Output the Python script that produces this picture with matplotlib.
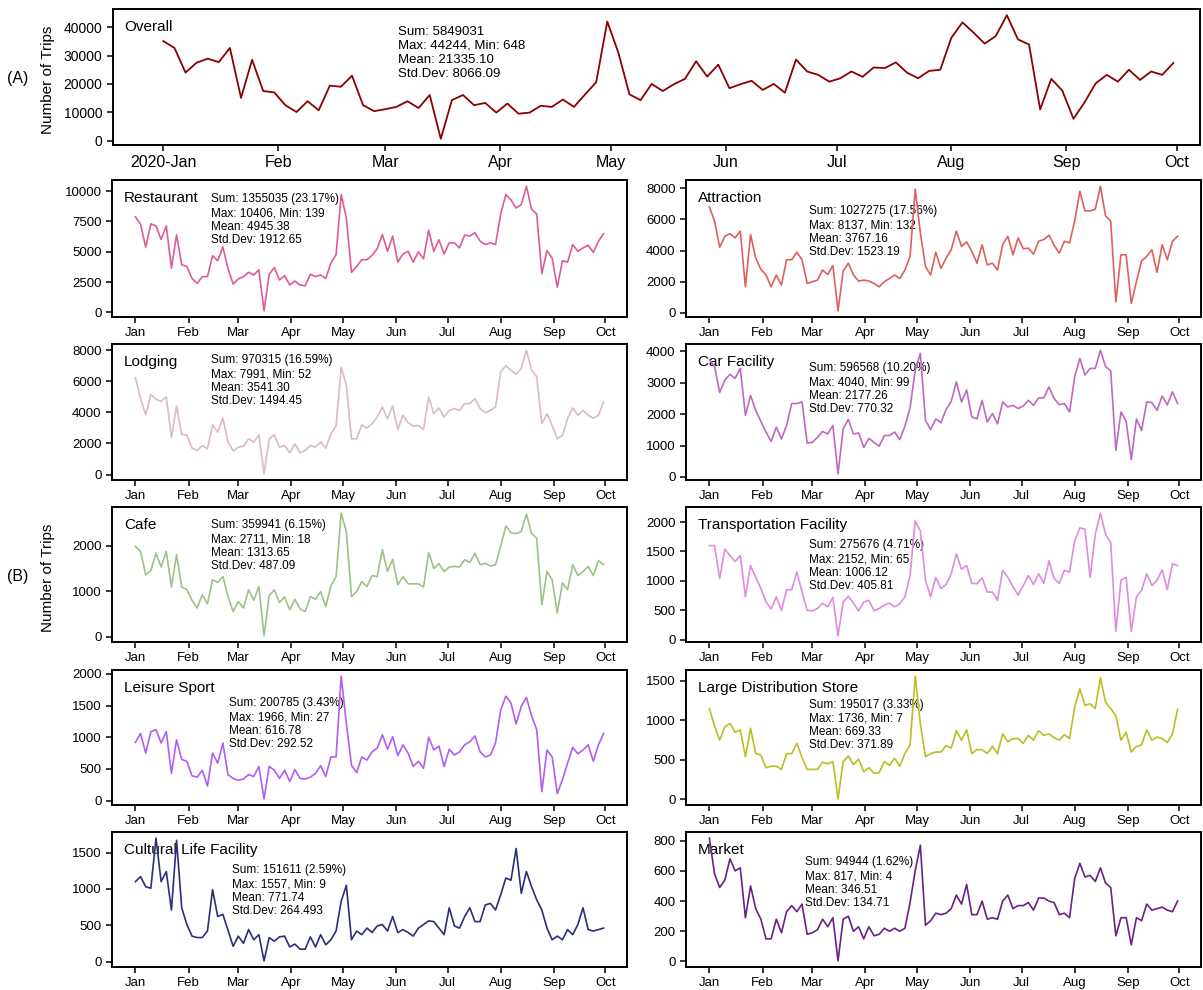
import numpy as np
import pandas as pd
import matplotlib
matplotlib.use('Agg')
import matplotlib.pyplot as plt
import matplotlib.dates as mdates
from matplotlib.ticker import MultipleLocator, FuncFormatter

plt.rcParams['font.family'] = ['Liberation Sans', 'DejaVu Sans']

# daily trip counts, sampled every third day from 2020-01-01
dates = pd.date_range('2020-01-01', '2020-09-30', freq='3D')

overall = [35100, 32700, 24000, 27500, 28900, 27700, 32700, 15100, 28500, 17500,
           17000, 12500, 10100, 13900, 10700, 19400, 19000, 22900, 12500, 10400,
           11100, 11900, 13900, 11500, 16100, 648, 14300, 16100, 12500, 13300,
           9900, 13100, 9500, 9900, 12300, 11900, 14500, 11900, 16300, 20600,
           42000, 31000, 16300, 14300, 20000, 17500, 19900, 21800, 28000, 22600,
           26800, 18500, 19900, 21100, 17900, 20000, 16900, 28600, 24400, 23200,
           20800, 22000, 24400, 22500, 25800, 25600, 27600, 24000, 22000, 24600,
           25000, 36300, 41700, 38100, 34200, 36900, 44244, 35700, 33900, 11000,
           21800, 17600, 7700, 13500, 20200, 23200, 20800, 25000, 21400, 24400,
           23200, 27400]

restaurant = [7880, 7270, 5380, 7300, 7130, 6020, 7130, 3650, 6400, 3930,
              3790, 2810, 2400, 2950, 2950, 4680, 4260, 5400, 3600, 2340,
              2760, 2950, 3310, 3090, 3510, 139, 3150, 3700, 2670, 3040,
              2260, 2590, 2260, 2200, 3150, 2950, 3090, 2810, 4070, 4760,
              9720, 7800, 3310, 3790, 4350, 4350, 4710, 5260, 6430, 5040,
              6300, 4150, 4820, 5040, 4150, 4990, 4430, 6770, 5040, 5990,
              4820, 5740, 5740, 5320, 6380, 6300, 6570, 5880, 5600, 5740,
              5600, 8110, 9720, 9280, 8610, 8890, 10406, 8520, 8110, 3200,
              5100, 4480, 2090, 4260, 4150, 5600, 5040, 5320, 5540, 4960,
              5880, 6490]

attraction = [6810, 5900, 4210, 4920, 5080, 4820, 5250, 1670, 5030, 3510,
              2800, 2430, 1670, 2430, 1780, 3410, 3410, 3900, 3410, 1890,
              2000, 2100, 2750, 2470, 3040, 132, 2690, 3190, 2430, 2040,
              2100, 2040, 1890, 1670, 2000, 2210, 2430, 2210, 2750, 3620,
              7950, 5140, 2970, 2430, 3900, 2860, 3510, 4060, 5250, 4270,
              4560, 3950, 3190, 4380, 3080, 3190, 2750, 4380, 4920, 3730,
              4820, 4120, 4160, 3770, 4600, 4710, 4990, 4340, 3840, 4600,
              4490, 5900, 7810, 6550, 6550, 6660, 8137, 6230, 5900, 700,
              3730, 3730, 600, 2000, 3340, 3620, 4060, 2600, 4380, 3410,
              4600, 4920]

lodging = [6220, 4880, 3850, 5140, 4840, 4710, 4990, 2410, 4410, 2560,
           2560, 1700, 1550, 1870, 1660, 3200, 2730, 3630, 2090, 1530,
           1760, 1830, 2300, 2090, 2560, 52, 2300, 2560, 1760, 1870,
           1400, 1980, 1400, 1550, 1870, 1760, 2090, 1700, 2620, 3120,
           6900, 5740, 2300, 2300, 3200, 2990, 3270, 3700, 4340, 3590,
           4410, 2900, 3810, 3330, 3120, 3160, 2900, 4990, 3910, 4280,
           3700, 4130, 4240, 4130, 4560, 4560, 4880, 4240, 3980, 4130,
           4340, 6600, 6990, 6710, 6430, 6820, 7991, 6710, 6280, 3270,
           3900, 3160, 2300, 2520, 3590, 4280, 3810, 4130, 3810, 3630,
           3810, 4670]

car_facility = [3730, 3520, 2690, 3090, 3270, 3140, 3460, 1960, 2600, 2120,
                1770, 1430, 1130, 1590, 1210, 1640, 2340, 2340, 2390, 1080,
                1100, 1260, 1450, 1370, 1640, 99, 1530, 1830, 1370, 1400,
                940, 1230, 1100, 980, 1320, 1320, 1430, 1190, 1620, 2200,
                3400, 3940, 1800, 1510, 1850, 1730, 2150, 2410, 3030, 2390,
                2770, 1910, 1850, 2440, 1750, 2020, 1690, 2390, 2230, 2280,
                2180, 2260, 2440, 2280, 2520, 2520, 2870, 2500, 2300, 2340,
                2070, 3190, 3780, 3250, 3460, 3460, 4040, 3520, 3380, 850,
                2070, 1770, 550, 1850, 1480, 2390, 2370, 2120, 2580, 2300,
                2710, 2340]

cafe = [1980, 1870, 1360, 1450, 1830, 1530, 1870, 1090, 1800, 1090,
        1030, 800, 630, 920, 720, 1250, 1190, 1320, 880, 550,
        770, 630, 1030, 800, 1100, 18, 900, 1030, 750, 870,
        590, 820, 610, 550, 880, 820, 990, 660, 1120, 1320,
        2711, 2300, 880, 990, 1210, 1100, 1340, 1320, 1910, 1430,
        1700, 1140, 1320, 1160, 1160, 1160, 1090, 1850, 1500, 1600,
        1430, 1530, 1540, 1530, 1690, 1630, 1830, 1580, 1610, 1550,
        1580, 1980, 2430, 2280, 2260, 2310, 2690, 2270, 2160, 700,
        1430, 1250, 520, 1180, 1030, 1580, 1340, 1430, 1540, 1340,
        1670, 1580]

transportation = [1600, 1600, 1040, 1540, 1430, 1330, 1430, 730, 1260, 1060,
                  870, 640, 520, 730, 500, 850, 850, 1150, 810, 500,
                  490, 530, 620, 560, 720, 65, 640, 740, 620, 490,
                  640, 670, 490, 530, 590, 620, 560, 610, 730, 1090,
                  2020, 1850, 1010, 730, 1060, 870, 940, 1120, 1460, 1200,
                  1260, 960, 950, 1050, 810, 810, 670, 1180, 1060, 900,
                  760, 920, 1090, 940, 1120, 960, 1340, 1040, 960, 1180,
                  1150, 1680, 1900, 1880, 1060, 1790, 2152, 1790, 1650, 140,
                  1010, 1060, 140, 730, 840, 1120, 920, 1010, 1190, 850,
                  1290, 1260]

leisure_sport = [920, 1060, 750, 1090, 1120, 910, 1090, 430, 960, 650,
                 620, 390, 370, 480, 230, 750, 590, 910, 410, 350,
                 320, 340, 410, 380, 540, 27, 540, 480, 350, 480,
                 300, 490, 350, 340, 370, 430, 550, 380, 690, 690,
                 1966, 1220, 560, 440, 690, 640, 770, 830, 1040, 810,
                 1010, 710, 880, 750, 540, 620, 510, 1000, 800, 860,
                 540, 810, 720, 770, 880, 930, 1020, 770, 690, 720,
                 910, 1430, 1650, 1540, 1210, 1490, 1630, 1340, 1120, 140,
                 800, 690, 110, 330, 590, 840, 740, 800, 880, 620,
                 880, 1060]

large_store = [1150, 930, 750, 920, 960, 850, 880, 540, 900, 580,
               560, 400, 420, 420, 380, 580, 580, 710, 530, 380,
               380, 380, 470, 450, 480, 7, 480, 550, 440, 510,
               350, 400, 330, 340, 480, 430, 520, 420, 580, 690,
               1560, 960, 540, 580, 600, 600, 680, 650, 870, 750,
               880, 580, 630, 630, 580, 670, 580, 830, 730, 770,
               770, 710, 810, 750, 870, 810, 830, 780, 750, 820,
               770, 1170, 1400, 1190, 1210, 1150, 1540, 1230, 1150, 1060,
               750, 850, 600, 670, 690, 880, 750, 790, 770, 720,
               830, 1140]

cultural_life = [1100, 1170, 1030, 1010, 1700, 1100, 1240, 710, 1670, 740,
                 510, 350, 330, 330, 420, 990, 620, 650, 430, 210,
                 350, 250, 440, 300, 370, 9, 330, 280, 340, 350,
                 200, 240, 170, 170, 340, 200, 370, 230, 300, 420,
                 830, 1050, 300, 420, 370, 460, 400, 490, 510, 420,
                 620, 400, 440, 400, 350, 460, 510, 560, 550, 460,
                 370, 740, 490, 460, 620, 740, 550, 550, 780, 800,
                 710, 920, 1150, 1120, 1557, 940, 1240, 1030, 850, 710,
                 460, 300, 350, 300, 440, 370, 510, 740, 440, 420,
                 440, 460]

market = [817, 580, 490, 540, 680, 600, 620, 290, 500, 350,
          280, 150, 150, 280, 190, 330, 370, 330, 380, 180,
          190, 210, 280, 230, 290, 4, 280, 300, 200, 230,
          150, 230, 170, 180, 220, 200, 220, 200, 220, 390,
          600, 770, 240, 270, 320, 310, 320, 350, 440, 380,
          510, 310, 310, 400, 280, 290, 280, 400, 440, 350,
          370, 370, 390, 340, 420, 420, 400, 390, 310, 320,
          290, 550, 650, 560, 570, 530, 620, 520, 490, 170,
          290, 290, 110, 290, 270, 380, 340, 350, 360, 340,
          330, 400]

names = ['Restaurant', 'Attraction', 'Lodging', 'Car Facility', 'Cafe',
         'Transportation Facility', 'Leisure Sport', 'Large Distribution Store',
         'Cultural Life Facility', 'Market']
series = [restaurant, attraction, lodging, car_facility, cafe,
          transportation, leisure_sport, large_store, cultural_life, market]

# summary statistics of the full daily series
sums = ['1355035', '1027275', '970315', '596568', '359941',
        '275676', '200785', '195017', '151611', '94944']
shares = ['23.17', '17.56', '16.59', '10.20', '6.15',
          '4.71', '3.43', '3.33', '2.59', '1.62']
maxs = ['10406', '8137', '7991', '4040', '2711', '2152', '1966', '1736', '1557', '817']
mins = ['139', '132', '52', '99', '18', '65', '27', '7', '9', '4']
means = ['4945.38', '3767.16', '3541.30', '2177.26', '1313.65',
         '1006.12', '616.78', '669.33', '771.74', '346.51']
stds = ['1912.65', '1523.19', '1494.45', '770.32', '487.09',
        '405.81', '292.52', '371.89', '264.493', '134.71']

colors = ['#df5a9b', '#df5f5c', '#dbbac7', '#c068c1', '#9cc287',
          '#e08ae0', '#b15ef2', '#bcbd22', '#2c2e7b', '#6a2088']
ytick_step = [2500, 2000, 2000, 1000, 1000, 500, 500, 500, 500, 200]
# stats box anchor (axes fraction, left edge / vertical centre)
stat_pos = [(0.192, 0.709), (0.239, 0.621), (0.192, 0.729), (0.239, 0.670),
            (0.192, 0.712), (0.239, 0.564), (0.227, 0.601), (0.239, 0.593),
            (0.233, 0.564), (0.231, 0.623)]

W, H = 1203, 990
fig = plt.figure(figsize=(W / 100, H / 100), dpi=100)


def box(l, t, r, b):
    return [l / W, 1 - b / H, (r - l) / W, (b - t) / H]


def style(ax, lsize):
    for s in ax.spines.values():
        s.set_linewidth(1.4)
    ax.tick_params(width=1.1, length=4, labelsize=lsize)
    ax.xaxis.set_major_locator(mdates.MonthLocator())


def month_label(v, pos):
    d = mdates.num2date(v)
    return d.strftime('2020-%b') if d.month == 1 else d.strftime('%b')


# overall panel
ax0 = fig.add_axes(box(113, 9, 1200, 145))
ax0.plot(dates, overall, color='#8b0000', lw=1.3)
style(ax0, 10)
ax0.tick_params(axis='x', labelsize=11.5)
ax0.xaxis.set_major_formatter(FuncFormatter(month_label))
ax0.yaxis.set_major_locator(MultipleLocator(10000))
start = pd.Timestamp('2020-01-01')
ax0.set_xlim(start - pd.Timedelta(days=13.6), start + pd.Timedelta(days=280.2))
ax0.text(0.01, 0.87, 'Overall', transform=ax0.transAxes, fontsize=11,
         va='center', zorder=1)
ax0.text(0.262, 0.676, 'Sum: 5849031\nMax: 44244, Min: 648\nMean: 21335.10\nStd.Dev: 8066.09',
         transform=ax0.transAxes, fontsize=9.5, va='center', linespacing=1.25, zorder=1)

tops = [180, 344, 507, 670, 832]
bottoms = [317, 480, 642, 805, 967]
cols = [(112, 627), (686, 1201)]

for i, name in enumerate(names):
    r, c = divmod(i, 2)
    ax = fig.add_axes(box(cols[c][0], tops[r], cols[c][1], bottoms[r]))
    ax.plot(dates, series[i], color=colors[i], lw=1.2)
    style(ax, 9.5)
    ax.xaxis.set_major_formatter(mdates.DateFormatter('%b'))
    ax.yaxis.set_major_locator(MultipleLocator(ytick_step[i]))
    ax.text(0.023, 0.865, name, transform=ax.transAxes, fontsize=11,
            va='center', zorder=1)
    txt = 'Sum: %s (%s%%)\nMax: %s, Min: %s\nMean: %s\nStd.Dev: %s' % (
        sums[i], shares[i], maxs[i], mins[i], means[i], stds[i])
    ax.text(stat_pos[i][0], stat_pos[i][1], txt, transform=ax.transAxes,
            fontsize=8.5, va='center', linespacing=1.18, zorder=1)

fig.text(48 / W, 1 - 80 / H, 'Number of Trips', rotation=90, fontsize=11,
         ha='center', va='center')
fig.text(48 / W, 1 - 578 / H, 'Number of Trips', rotation=90, fontsize=11,
         ha='center', va='center')
fig.text(18 / W, 1 - 78 / H, '(A)', fontsize=11.5, ha='center', va='center')
fig.text(18 / W, 1 - 577 / H, '(B)', fontsize=11.5, ha='center', va='center')

fig.savefig('out.png', dpi=100)
